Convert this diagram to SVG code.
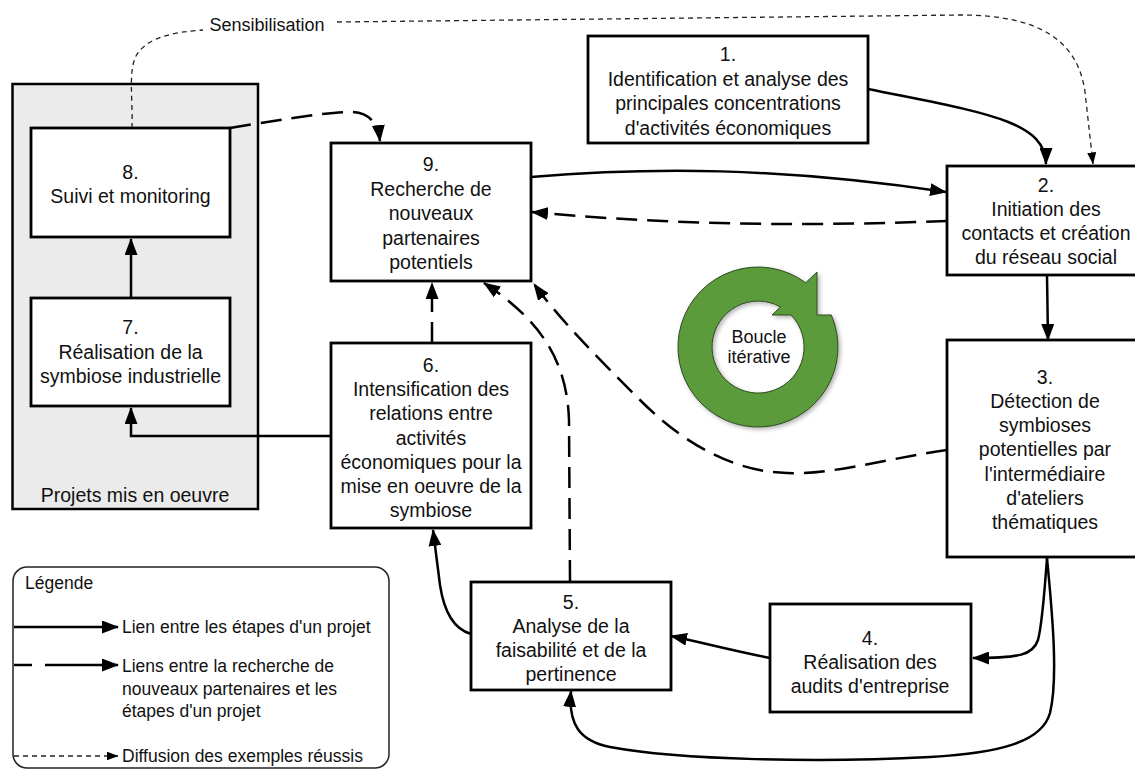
<svg xmlns="http://www.w3.org/2000/svg" width="1135" height="771" viewBox="0 0 1135 771">
<style>
.box{fill:#fff;stroke:#000;stroke-width:2.8}
.t{font-family:"Liberation Sans",Arial,Helvetica,sans-serif;font-size:19.5px;fill:#111;text-anchor:middle}
.lt{font-family:"Liberation Sans",Arial,Helvetica,sans-serif;font-size:17.5px;fill:#111}
.solid{fill:none;stroke:#000;stroke-width:2.5;marker-end:url(#ah)}
.dash{fill:none;stroke:#000;stroke-width:2.5;stroke-dasharray:21 10;marker-end:url(#ah)}
.dot{fill:none;stroke:#222;stroke-width:1.3;stroke-dasharray:5 4}
</style>
<defs>
<marker id="ah" viewBox="0 0 17 13" refX="16" refY="6.5" markerWidth="17" markerHeight="13" markerUnits="userSpaceOnUse" orient="auto"><path d="M0,0 L17,6.5 L0,13 Z" fill="#000"/></marker>
<marker id="ahs" viewBox="0 0 12 9" refX="11.5" refY="4.5" markerWidth="12" markerHeight="9" markerUnits="userSpaceOnUse" orient="auto"><path d="M0,0 L12,4.5 L0,9 Z" fill="#000"/></marker>
<filter id="sh" x="-20%" y="-20%" width="140%" height="140%"><feDropShadow dx="2" dy="2" stdDeviation="2" flood-color="#000" flood-opacity="0.3"/></filter>
</defs>
<rect width="1135" height="771" fill="#fff"/>

<g id="container">
<rect x="12.5" y="84" width="245.5" height="425" fill="#ebebeb" stroke="#000" stroke-width="2.5"/>
<text class="t" x="135" y="502">Projets mis en oeuvre</text>
</g>

<g id="connectors">
<path class="dot" d="M132,128 C133,100 128,72 136,56 C146,38 172,32 203,30"/>
<path class="dot" marker-end="url(#ahs)" d="M337,22 L960,15 C1042,15 1078,42 1085,92 L1093,164"/>
<path class="solid" d="M868,89 C980,112 1046,120 1046,164"/>
<path class="solid" d="M531,177 C650,167 780,167 946,192"/>
<path class="dash" d="M947,221 C820,226 680,226 532,212"/>
<path class="solid" d="M1047,275 L1048,340"/>
<path class="solid" d="M1047,558 C1044,600 1042,625 1038,640 C1033,655 1020,658 973,658"/>
<path class="solid" d="M1047,558 C1053,620 1058,680 1050,713 C1042,742 1000,753 930,757 C820,763 680,760 610,747 C580,741 568,725 571,691"/>
<path class="solid" d="M770,658 C730,650 700,642 671,636"/>
<path class="solid" d="M471,634 C450,628 443,605 440,585 L433,530"/>
<path class="dash" d="M570,581 L569,420 C567,360 540,320 484,283"/>
<path class="dash" d="M947,450 C880,460 830,475 787,473 C740,472 690,450 640,400 C600,360 560,320 534,284"/>
<path class="dash" d="M432,343 L432,283"/>
<path class="solid" d="M331,436 L131,436 L131,408"/>
<path class="solid" d="M131,298 L131,239"/>
<path class="dash" d="M230,128 C290,118 330,112 350,112 C368,112 378,122 380,141"/>
</g>

<text id="sensibilisation" class="lt" x="267" y="31" style="font-size:18px;text-anchor:middle">Sensibilisation</text>

<g id="n8"><rect class="box" x="31" y="128" width="199" height="109"/>
<text class="t"><tspan x="130.5" y="179">8.</tspan><tspan x="130.5" y="203">Suivi et monitoring</tspan></text></g>

<g id="n7"><rect class="box" x="31" y="298" width="199" height="108"/>
<text class="t"><tspan x="130.5" y="334">7.</tspan><tspan x="130.5" y="358.5">Réalisation de la</tspan><tspan x="130.5" y="383">symbiose industrielle</tspan></text></g>

<g id="n9"><rect class="box" x="331" y="143" width="200" height="138"/>
<text class="t"><tspan x="431" y="171">9.</tspan><tspan x="431" y="195.5">Recherche de</tspan><tspan x="431" y="220">nouveaux</tspan><tspan x="431" y="244.5">partenaires</tspan><tspan x="431" y="269">potentiels</tspan></text></g>

<g id="n6"><rect class="box" x="331" y="343" width="200" height="185"/>
<text class="t"><tspan x="431" y="372">6.</tspan><tspan x="431" y="396.2">Intensification des</tspan><tspan x="431" y="420.4">relations entre</tspan><tspan x="431" y="444.6">activités</tspan><tspan x="431" y="468.8">économiques pour la</tspan><tspan x="431" y="493">mise en oeuvre de la</tspan><tspan x="431" y="517.2">symbiose</tspan></text></g>

<g id="n1"><rect class="box" x="588" y="36" width="280" height="107"/>
<text class="t"><tspan x="728" y="61">1.</tspan><tspan x="728" y="85.5">Identification et analyse des</tspan><tspan x="728" y="110">principales concentrations</tspan><tspan x="728" y="134.5">d'activités économiques</tspan></text></g>

<g id="n2"><rect class="box" x="947" y="166" width="200" height="109"/>
<text class="t"><tspan x="1046" y="192">2.</tspan><tspan x="1046" y="216">Initiation des</tspan><tspan x="1046" y="240">contacts et création</tspan><tspan x="1046" y="264">du réseau social</tspan></text></g>

<g id="n3"><rect class="box" x="947" y="340" width="200" height="217"/>
<text class="t"><tspan x="1045" y="383.7">3.</tspan><tspan x="1045" y="407.9">Détection de</tspan><tspan x="1045" y="432.1">symbioses</tspan><tspan x="1045" y="456.3">potentielles par</tspan><tspan x="1045" y="480.5">l'intermédiaire</tspan><tspan x="1045" y="504.7">d'ateliers</tspan><tspan x="1045" y="528.9">thématiques</tspan></text></g>

<g id="n4"><rect class="box" x="770" y="604" width="201" height="108"/>
<text class="t"><tspan x="870" y="645">4.</tspan><tspan x="870" y="669">Réalisation des</tspan><tspan x="870" y="693">audits d'entreprise</tspan></text></g>

<g id="n5"><rect class="box" x="471" y="582" width="200" height="108"/>
<text class="t"><tspan x="571" y="609">5.</tspan><tspan x="571" y="633">Analyse de la</tspan><tspan x="571" y="657">faisabilité et de la</tspan><tspan x="571" y="681">pertinence</tspan></text></g>

<g id="loop">
<path filter="url(#sh)" fill="#5b9b3a" stroke="#2e4a20" stroke-width="1" fill-rule="evenodd" d="M817,315 L831.3,315 A80,80 0 1 1 805.7,282.8 L817,272 Z M791.05,315 A46,46 0 1 1 780.5,306.9 L772,315 Z"/>
<text class="lt" style="text-anchor:middle;font-size:18px"><tspan x="759" y="343">Boucle</tspan><tspan x="759" y="363">itérative</tspan></text>
</g>

<g id="legend">
<rect x="13" y="567" width="376" height="201" rx="14" fill="#fff" stroke="#222" stroke-width="1.5"/>
<text class="lt" x="25" y="589">Légende</text>
<path class="solid" d="M14,627 L118,627"/>
<text class="lt" x="122" y="633">Lien entre les étapes d'un projet</text>
<path fill="none" stroke="#000" stroke-width="2.5" stroke-dasharray="18 13 80" marker-end="url(#ah)" d="M14,665 L118,665"/>
<text class="lt"><tspan x="122" y="672">Liens entre la recherche de</tspan><tspan x="122" y="695">nouveaux partenaires et les</tspan><tspan x="122" y="717">étapes d'un projet</tspan></text>
<path class="dot" marker-end="url(#ahs)" d="M14,756 L118,756"/>
<text class="lt" x="122" y="762">Diffusion des exemples réussis</text>
</g>
</svg>
